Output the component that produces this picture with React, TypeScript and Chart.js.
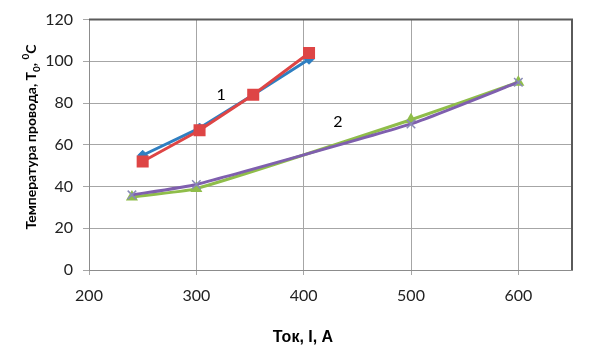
import { useEffect, useRef } from 'react';
import { Chart, registerables } from 'chart.js';

Chart.register(...registerables);

// ---- data ----
const curve1X = [250, 303, 353, 405];
const curve1Blue = [55, 68, 84, 101];
const curve1Red = [52, 67, 84, 104];

const curve2X = [240, 300, 500, 600];
const curve2Green = [35, 39, 72, 90];
const curve2Purple = [36, 41, 70, 90];

const curveLabels = ['1', '2'];
const curveLabelX = [323, 432];
const curveLabelY = [84, 71];

const xTitle = 'Ток, I, А';
const yTitleMain = 'Температура провода, T';
const yTitleSub = '0';
const yTitleMid = ', ';
const yTitleSup = '0';
const yTitleEnd = 'C';

const X_MIN = 200;
const X_MAX = 650;
const X_STEP = 100;
const Y_MIN = 0;
const Y_MAX = 120;
const Y_STEP = 20;

const toPoints = (xs: number[], ys: number[]) => xs.map((x, i) => ({ x, y: ys[i] }));

const FONT = 'Lato, "Open Sans", sans-serif';

const decorPlugin = {
  id: 'decor',
  afterDatasetsDraw(chart: any) {
    const ctx = chart.ctx as CanvasRenderingContext2D;
    const xs = chart.scales.x;
    const ys = chart.scales.y;
    ctx.save();
    ctx.fillStyle = '#000';
    ctx.font = `16px ${FONT}`;
    ctx.textAlign = 'center';
    ctx.textBaseline = 'middle';
    curveLabels.forEach((t, i) => {
      ctx.fillText(t, xs.getPixelForValue(curveLabelX[i]), ys.getPixelForValue(curveLabelY[i]));
    });
    ctx.restore();
  },
  afterDraw(chart: any) {
    const ctx = chart.ctx as CanvasRenderingContext2D;
    const { left, right, top, bottom } = chart.chartArea;
    ctx.save();
    ctx.strokeStyle = '#5a5a5a';
    ctx.lineWidth = 2;
    ctx.beginPath();
    ctx.moveTo(left, top);
    ctx.lineTo(right, top);
    ctx.lineTo(right, bottom);
    ctx.stroke();

    ctx.fillStyle = '#000';
    ctx.font = `bold 16px Arial, "Liberation Sans", sans-serif`;
    ctx.textAlign = 'center';
    ctx.textBaseline = 'middle';
    ctx.fillText(xTitle, 303, 338);

    const mainFont = `bold 14px ${FONT}`;
    const smallFont = `bold 10px ${FONT}`;
    ctx.translate(31, 137);
    ctx.rotate(-Math.PI / 2);
    ctx.textAlign = 'left';
    ctx.textBaseline = 'alphabetic';
    ctx.font = mainFont;
    const w1 = ctx.measureText(yTitleMain).width;
    const w3 = ctx.measureText(yTitleMid).width;
    const w5 = ctx.measureText(yTitleEnd).width;
    ctx.font = smallFont;
    const w2 = ctx.measureText(yTitleSub).width;
    const w4 = ctx.measureText(yTitleSup).width;
    const total = w1 + w2 + w3 + w4 + w5;
    let x = -total / 2;
    const base = 5;
    ctx.font = mainFont;
    ctx.fillText(yTitleMain, x, base);
    x += w1;
    ctx.font = smallFont;
    ctx.fillText(yTitleSub, x, base + 4);
    x += w2;
    ctx.font = mainFont;
    ctx.fillText(yTitleMid, x, base);
    x += w3;
    ctx.font = smallFont;
    ctx.fillText(yTitleSup, x, base - 7);
    x += w4;
    ctx.font = mainFont;
    ctx.fillText(yTitleEnd, x, base);
    ctx.restore();
  },
};

export default function App() {
  const ref = useRef<HTMLCanvasElement | null>(null);

  useEffect(() => {
    document.body.style.margin = '0';
    const canvas = ref.current;
    if (!canvas) return;
    const chart = new Chart(canvas, {
      type: 'scatter',
      data: {
        datasets: [
          {
            label: '1a',
            data: toPoints(curve1X, curve1Blue),
            showLine: true,
            borderColor: '#2f7fc1',
            backgroundColor: '#2f7fc1',
            borderWidth: 3,
            pointStyle: 'rectRot',
            pointRadius: 5,
            pointBorderWidth: 1,
            order: 4,
          },
          {
            label: '1b',
            data: toPoints(curve1X, curve1Red),
            showLine: true,
            borderColor: '#de4545',
            backgroundColor: '#de4545',
            borderWidth: 3,
            pointStyle: 'rect',
            pointRadius: 8.5,
            pointBorderWidth: 0,
            order: 3,
          },
          {
            label: '2a',
            data: toPoints(curve2X, curve2Green),
            showLine: true,
            borderColor: '#8fbd4a',
            backgroundColor: '#8fbd4a',
            borderWidth: 3,
            pointStyle: 'triangle',
            pointRadius: 7,
            pointBorderWidth: 0,
            tension: 0.15,
            order: 2,
          },
          {
            label: '2b',
            data: toPoints(curve2X, curve2Purple),
            showLine: true,
            borderColor: '#7f5fae',
            backgroundColor: '#7f5fae',
            pointBorderColor: '#8a8ab8',
            borderWidth: 3,
            pointStyle: 'crossRot',
            pointRadius: 6,
            pointBorderWidth: 1.5,
            tension: 0.15,
            order: 1,
          },
        ],
      },
      options: {
        animation: false,
        responsive: false,
        maintainAspectRatio: false,
        layout: { padding: { top: 15, right: 28, left: 0, bottom: 0 } },
        plugins: {
          legend: { display: false },
          tooltip: { enabled: false },
        },
        scales: {
          x: {
            type: 'linear',
            min: X_MIN,
            max: X_MAX,
            ticks: {
              stepSize: X_STEP,
              color: '#222',
              font: { family: FONT, size: 16 },
              padding: 11,
              maxRotation: 0,
            },
            afterBuildTicks: (scale: any) => {
              scale.ticks = scale.ticks.filter((t: any) => t.value % X_STEP === 0);
            },
            afterFit: (scale: any) => {
              scale.height = 87;
            },
            grid: {
              color: '#a6a6a6',
              lineWidth: 1,
              tickLength: 5,
            },
            border: { color: '#8c8c8c', width: 1 },
          },
          y: {
            type: 'linear',
            min: Y_MIN,
            max: Y_MAX,
            ticks: {
              stepSize: Y_STEP,
              color: '#222',
              font: { family: FONT, size: 16 },
              padding: 10,
            },
            afterFit: (scale: any) => {
              scale.width = 89;
            },
            grid: {
              color: '#a6a6a6',
              lineWidth: 1,
              tickLength: 6,
            },
            border: { color: '#8c8c8c', width: 1 },
          },
        },
      },
      plugins: [decorPlugin],
    });
    return () => chart.destroy();
  }, []);

  return (
    <div style={{ position: 'fixed', left: 0, top: 0, width: 600, height: 357, background: '#fff' }}>
      <canvas ref={ref} width={600} height={357} style={{ width: 600, height: 357 }} />
    </div>
  );
}
